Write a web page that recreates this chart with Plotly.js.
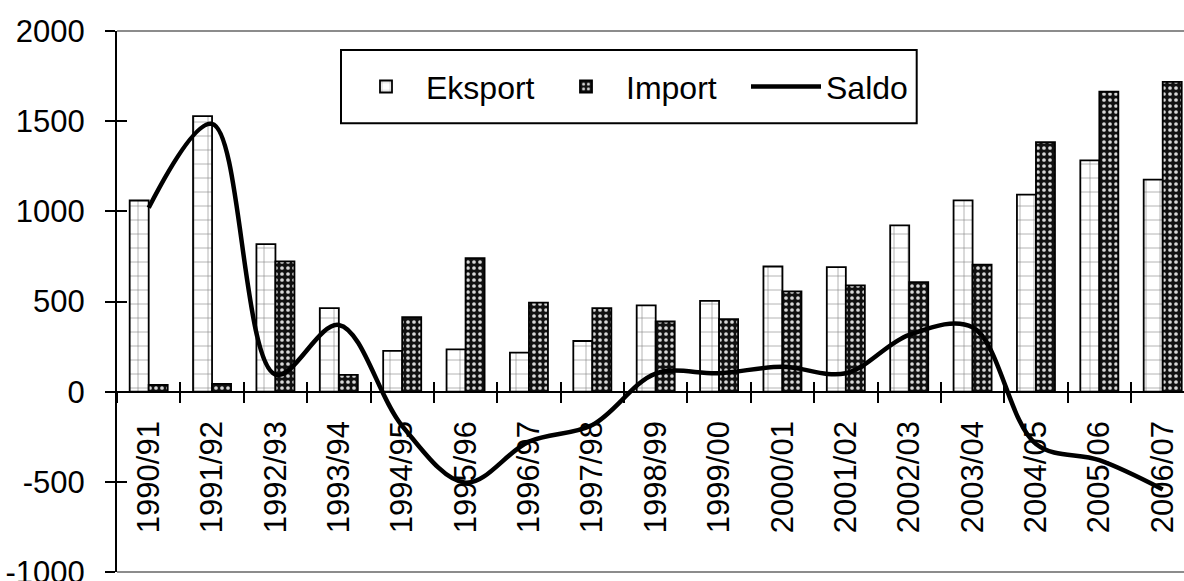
<!DOCTYPE html>
<html>
<head>
<meta charset="utf-8">
<script src="https://cdn.plot.ly/plotly-3.0.1.min.js"></script>
<style>
  html, body { margin: 0; padding: 0; background: #ffffff; }
  #chart { width: 1184px; height: 581px; }
</style>
</head>
<body>
<div id="chart"></div>
<script>
const categories = ['1990/91','1991/92','1992/93','1993/94','1994/95','1995/96','1996/97','1997/98','1998/99','1999/00','2000/01','2001/02','2002/03','2003/04','2004/05','2005/06','2006/07'];
const eksport = [1060, 1528, 818, 463, 226, 235, 217, 281, 478, 504, 694, 691, 922, 1061, 1093, 1283, 1176];
const importValues = [37, 43, 722, 93, 413, 741, 494, 463, 389, 402, 556, 589, 607, 704, 1383, 1663, 1718];
const saldo = [1020, 1485, 95, 370, -190, -505, -277, -185, 100, 102, 138, 102, 315, 357, -290, -380, -542];
const seriesNames = ['Eksport', 'Import', 'Saldo'];
const yTicks = [-1000, -500, 0, 500, 1000, 1500, 2000];

const FONT = 'Liberation Sans, Arial, sans-serif';
const FS = 31;
const W = 1184, H = 581;
const L = 117, T = 31, B = 9, R = 0;
const plotW = W - L - R, plotH = H - T - B;
const xMax = 16.5 - (1194.4 - 1184) / 63.4;
const xRange = [-0.5, xMax];
const yRange = [-1000, 2000];
const zeroPos = (0 - yRange[0]) / (yRange[1] - yRange[0]);
const px2x = p => (p - L) / plotW;
const px2y = p => (H - B - p) / plotH;

const traces = [
  {
    type: 'bar', name: seriesNames[0], x: categories, y: eksport,
    xaxis: 'x', yaxis: 'y',
    marker: {
      color: '#ffffff',
      line: { color: '#000000', width: 1.8 },
      pattern: { shape: '+', fgcolor: '#7a7a7a', bgcolor: '#ffffff', size: 14, solidity: 0.08, fillmode: 'replace' }
    },
    hoverinfo: 'skip'
  },
  {
    type: 'bar', name: seriesNames[1], x: categories, y: importValues,
    xaxis: 'x', yaxis: 'y',
    marker: {
      color: '#111111',
      line: { color: '#000000', width: 1.8 },
      pattern: { shape: '.', fgcolor: '#d8d8d8', bgcolor: '#111111', size: 6, solidity: 0.3, fillmode: 'replace' }
    },
    hoverinfo: 'skip'
  },
  {
    type: 'scatter', mode: 'lines', name: seriesNames[2], x: categories, y: saldo,
    xaxis: 'x3', yaxis: 'y2',
    line: { color: '#000000', width: 4.5, shape: 'spline', smoothing: 1 },
    hoverinfo: 'skip'
  }
];

const layout = {
  width: W, height: H,
  margin: { l: L, r: R, t: T, b: B, pad: 0 },
  paper_bgcolor: '#ffffff', plot_bgcolor: 'rgba(0,0,0,0)',
  font: { family: FONT, size: FS, color: '#000000' },
  barmode: 'group', bargap: 0.4, bargroupgap: 0,
  showlegend: true,
  legend: {
    orientation: 'h',
    x: px2x(346), y: px2y(86.7), xanchor: 'left', yanchor: 'middle',
    bgcolor: 'rgba(0,0,0,0)', borderwidth: 0,
    font: { family: FONT, size: 32, color: '#000000' },
    itemwidth: 70,
    entrywidth: 115, entrywidthmode: 'pixels',
    traceorder: 'normal'
  },
  xaxis: {
    type: 'category', categoryorder: 'array', categoryarray: categories,
    range: xRange, anchor: 'free', position: zeroPos,
    showline: true, linecolor: '#000000', linewidth: 2,
    ticks: 'outside', ticklen: 10, tickwidth: 2, tickcolor: '#000000',
    tickson: 'boundaries', tickangle: -90, ticklabelstandoff: 16,
    showgrid: false, zeroline: false, fixedrange: true,
    tickfont: { family: FONT, size: FS, color: '#000000' }
  },
  xaxis3: {
    type: 'category', categoryorder: 'array', categoryarray: categories,
    range: xRange, overlaying: 'x', anchor: 'free', position: zeroPos,
    showline: false, ticks: 'inside', ticklen: 10, tickwidth: 2, tickcolor: '#000000',
    tickson: 'boundaries', showticklabels: false, showgrid: false, zeroline: false, fixedrange: true
  },
  yaxis: {
    range: yRange, tickmode: 'array', tickvals: yTicks, ticktext: yTicks.map(String),
    showline: true, linecolor: '#000000', linewidth: 2,
    ticks: 'outside', ticklen: 10, tickwidth: 2, tickcolor: '#000000',
    ticklabelstandoff: 14, ticklabeloverflow: 'allow',
    showgrid: false, zeroline: false, fixedrange: true,
    tickfont: { family: FONT, size: FS, color: '#000000' }
  },
  yaxis2: {
    range: yRange, overlaying: 'y', side: 'left', anchor: 'x3',
    tickmode: 'array', tickvals: yTicks,
    showline: false, ticks: 'inside', ticklen: 10, tickwidth: 2, tickcolor: '#000000',
    showticklabels: false, showgrid: false, zeroline: false, fixedrange: true
  },
  shapes: [
    { type: 'line', xref: 'paper', yref: 'paper', x0: 0, x1: 1, y0: 1, y1: 1, line: { color: '#8c8c8c', width: 2.2 }, layer: 'below' },
    { type: 'line', xref: 'paper', yref: 'paper', x0: 0, x1: 1, y0: 0, y1: 0, line: { color: '#8c8c8c', width: 2.2 }, layer: 'below' },
    { type: 'rect', xref: 'paper', yref: 'paper', x0: px2x(341), x1: px2x(916.7), y0: px2y(123.3), y1: px2y(50), line: { color: '#000000', width: 2 }, fillcolor: '#ffffff', layer: 'below' }
  ]
};

Plotly.newPlot('chart', traces, layout, { displayModeBar: false, staticPlot: true });
</script>
</body>
</html>
